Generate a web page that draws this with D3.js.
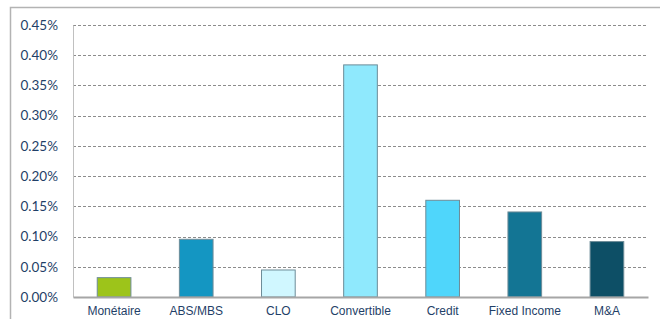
<!DOCTYPE html>
<html>
<head>
<meta charset="utf-8">
<script src="https://cdn.jsdelivr.net/npm/d3@7"></script>
<style>
  body { margin: 0; background: #fff; }
  svg { display: block; }
</style>
</head>
<body>
<div id="chart"></div>
<script>
'use strict';

var categories = ['Monétaire', 'ABS/MBS', 'CLO', 'Convertible', 'Credit', 'Fixed Income', 'M&A'];
var values = [0.032, 0.0955, 0.0447, 0.384, 0.160, 0.1407, 0.0917];
var colors = ['#9dc41a', '#1496c2', '#d0f7ff', '#8fe9fd', '#4fd6fb', '#137594', '#0d4f66'];
var yTicks = [0, 0.05, 0.10, 0.15, 0.20, 0.25, 0.30, 0.35, 0.40, 0.45];

var W = 660, H = 319;
var margin = { top: 25, right: 12, bottom: 22, left: 73 },
  width = W - margin.left - margin.right,
  height = H - margin.top - margin.bottom;

var svg = d3.select('#chart').append('svg')
  .attr('width', W)
  .attr('height', H);

// outer frame, runs off the right and bottom edges
svg.append('rect')
  .attr('x', 10.5)
  .attr('y', 7.5)
  .attr('width', 660)
  .attr('height', 330)
  .attr('fill', 'none')
  .attr('stroke', '#b3b3b3')
  .attr('stroke-width', 1.5);

var g = svg.append('g')
  .attr('transform', 'translate(' + margin.left + ',' + margin.top + ')');

var x = d3.scaleBand().domain(categories).range([0, width]).paddingInner(0.59).paddingOuter(0.295);
var y = d3.scaleLinear().domain([0, 0.45]).range([height, 0]);

// gridlines
g.selectAll('.grid')
  .data(yTicks.filter(function (d) { return d > 0; }))
  .enter()
  .append('line')
  .attr('class', 'grid')
  .attr('x1', 0)
  .attr('x2', width)
  .attr('y1', function (d) { return Math.round(y(d)) + 0.5; })
  .attr('y2', function (d) { return Math.round(y(d)) + 0.5; })
  .attr('stroke', '#8c8c8c')
  .attr('stroke-dasharray', '3,2');

// y axis
var yAxis = g.append('g')
  .call(d3.axisLeft(y).tickValues(yTicks).tickSize(0).tickPadding(15)
    .tickFormat(function (d) { return d.toFixed(2) + '%'; }));
yAxis.select('.domain').attr('stroke', '#c0c0c0').attr('stroke-width', 1);
yAxis.selectAll('text')
  .style('font-family', 'Lato, "Open Sans", sans-serif')
  .style('font-size', '13.5px')
  .attr('fill', '#1f3f68');

// bars
g.selectAll('.bar')
  .data(values)
  .enter()
  .append('rect')
  .attr('class', 'bar')
  .attr('x', function (d, i) { return x(categories[i]); })
  .attr('width', x.bandwidth())
  .attr('y', function (d) { return y(d); })
  .attr('height', function (d) { return height - y(d); })
  .attr('fill', function (d, i) { return colors[i]; })
  .attr('stroke', '#6d8c98')
  .attr('stroke-width', 1);

// x axis
var xAxis = g.append('g')
  .attr('transform', 'translate(0,' + height + ')')
  .call(d3.axisBottom(x).tickSize(0).tickPadding(9));
xAxis.select('.domain').attr('stroke', '#a6a6a6').attr('stroke-width', 2);
xAxis.selectAll('text')
  .style('font-family', '"Liberation Sans", Arial, sans-serif')
  .style('font-size', '12px')
  .attr('fill', '#1f3f68');
</script>
</body>
</html>
